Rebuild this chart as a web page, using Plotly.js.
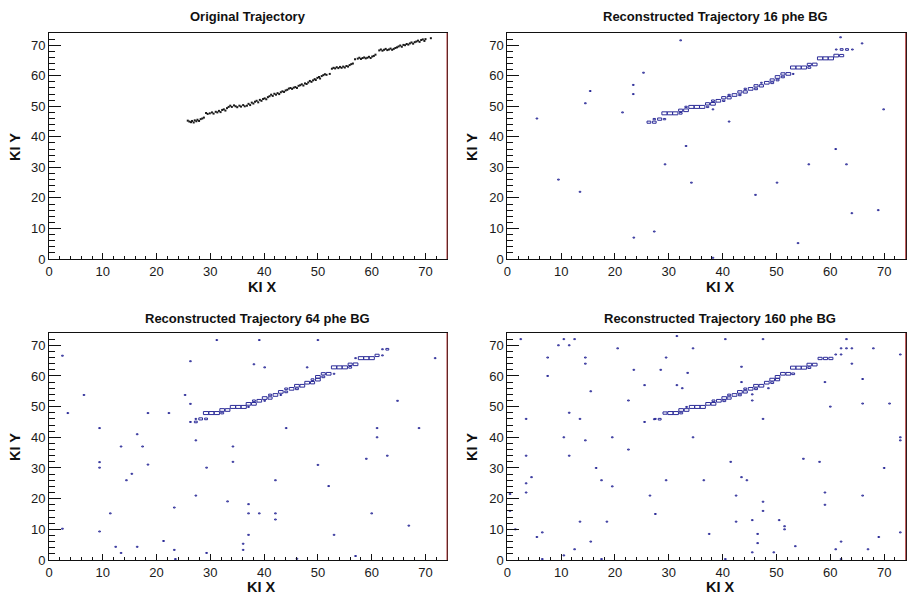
<!DOCTYPE html>
<html>
<head>
<meta charset="utf-8">
<script src="https://cdn.plot.ly/plotly-3.0.1.min.js"></script>
<style>html,body{margin:0;padding:0;background:#fff;}#chart{width:907px;height:597px;}</style>
</head>
<body>
<div id="chart"></div>
<script>
// ---------------- DATA ----------------
const panelTitles = ["Original Trajectory", "Reconstructed Trajectory 16 phe BG",
                     "Reconstructed Trajectory 64 phe BG", "Reconstructed Trajectory 160 phe BG"];
const xTitle = "KI X";
const yTitle = "KI Y";
const tickVals = [0, 10, 20, 30, 40, 50, 60, 70];

// Panel 1: original trajectory points
const origX = [25.8,26.1,26.4,26.6,26.9,27.1,27.4,27.6,27.9,28.2,28.5,28.8,
  29.2,29.5,29.9,30.3,30.6,31.0,31.3,31.6,31.9,32.2,
  32.5,32.8,33.1,33.4,
  33.7,34.0,34.4,34.7,35.0,35.4,35.7,36.1,36.4,36.8,
  37.1,37.4,37.7,38.0,38.3,38.6,38.9,39.2,39.5,39.8,
  40.1,40.4,40.7,41.0,41.3,41.6,41.9,42.2,42.5,42.8,43.1,43.4,43.7,44.0,
  44.3,44.6,44.9,45.2,45.5,45.8,46.1,46.4,46.7,47.0,47.3,47.6,47.9,
  48.2,48.5,48.8,49.1,49.4,49.6,49.9,50.2,50.4,50.7,51.0,51.3,51.6,
  52.2,
  52.6,52.9,53.2,53.5,53.8,54.1,54.4,54.7,55.0,55.3,55.6,55.9,56.2,56.5,
  56.9,
  57.4,57.7,58.0,58.3,58.6,58.9,59.2,59.5,59.8,60.1,60.4,60.7,
  61.4,61.7,62.0,62.3,62.6,62.9,63.2,63.5,63.8,64.1,64.4,64.7,
  65.0,65.3,65.6,65.9,66.2,66.5,66.8,67.1,67.4,67.7,68.0,68.3,68.6,68.9,69.2,69.5,69.8,70.0,
  71.0];
const origY = [45.3,45.0,44.8,45.2,44.7,45.4,45.1,45.6,45.2,45.8,46.0,46.3,
  47.8,47.5,47.7,48.0,47.6,48.2,48.0,48.5,48.1,48.8,
  49.0,48.6,49.4,49.8,
  50.2,49.8,50.3,50.0,49.7,50.2,49.9,50.4,50.0,50.2,
  50.8,50.4,51.2,50.9,51.5,51.8,51.3,52.1,51.8,52.4,
  52.6,52.3,53.0,53.3,53.8,53.4,54.1,53.8,54.3,54.0,54.6,54.9,54.7,55.2,
  55.4,55.8,56.0,55.7,56.1,56.3,56.0,56.7,56.9,57.2,56.8,57.5,57.3,
  57.8,58.3,58.0,58.5,58.9,58.6,59.3,59.6,59.1,59.9,60.2,60.5,60.3,
  60.6,
  62.3,62.6,62.4,62.8,62.5,62.9,62.6,63.0,62.7,63.2,63.0,63.5,63.8,64.0,
  65.4,
  65.6,65.9,65.5,65.8,66.0,65.7,65.9,66.2,65.8,66.3,66.5,66.9,
  68.3,68.6,68.2,68.5,68.8,68.4,68.6,68.9,68.5,68.8,69.1,69.3,
  69.6,69.9,69.5,70.1,70.0,70.4,70.2,70.6,70.9,70.5,71.0,71.2,71.5,71.1,71.7,71.9,71.4,72.0,
  72.3];

// Panel 2: 16 phe BG  (trajectory bins + background bins with 1 entry)
const bg16X = [5.5,9.5,13.5,14.5,15.4,21.4,23.4,23.4,23.5,25.3,27.3,29.3,32.2,33.2,34.2,38.2,38.2,41.2,46.1,50.1,54.0,56.0,61.0,63.0,64.0,61.9,65.9,68.9,69.9];
const bg16Y = [46,26,22,51,55,48,57,54,7,61,9,31,71.6,37,25,49,0.4,45,21,25,5.2,31,36,31,15,72.6,70.6,16,49];
const tr16X = [26.3,27.3, 27.3,28.3,29.2, 29.2,30.2,31.2,32.2, 32.2,33.2, 33.2,34.2,35.2,36.2,37.2, 37.2,38.2, 38.2,39.2,40.2, 40.2,41.2, 41.2,42.2,43.2, 43.2,44.2, 44.2,45.2,46.2, 46.2,47.2, 47.2,48.2,49.2, 49.2,50.2, 50.2,51.2, 51.2,52.2,53.1, 53.1,54.1,55.1,56.1, 56.1,57.1, 58.1,59.1,60.1, 61.1,62.1, 61.1,62.1,63.1,64.1];
const tr16Y = [44.8,44.8, 45.8,45.8,45.8, 47.7,47.7,47.7,47.7, 48.7,48.7, 49.8,49.8,49.8,49.8,49.8, 50.8,50.8, 51.8,51.8,51.8, 52.8,52.8, 53.7,53.7,53.7, 54.7,54.7, 55.7,55.7,55.7, 56.7,56.7, 57.7,57.7,57.7, 58.6,58.6, 59.6,59.6, 60.6,60.6,60.6, 62.7,62.7,62.7,62.7, 63.7,63.7, 65.7,65.7,65.7, 66.6,66.6, 68.6,68.6,68.6,68.6];
const tr16N = [5,5, 2,6,2, 10,10,10,3, 6,8, 2,10,10,10,2, 6,8, 3,8,2, 6,6, 2,8,2, 6,6, 2,8,3, 6,6, 1,8,3, 6,3, 8,3, 6,8,1, 10,10,10,3, 6,8, 10,10,10, 8,6, 1,3,3,1];

// Panel 3: 64 phe BG
const bg64X = [2.5,3.5,2.5,6.5,9.4,9.4,9.4,9.4,11.4,12.4,13.4,13.4,14.4,15.4,16.4,16.4,17.4,18.4,18.4,21.3,22.3,23.3,23.3,23.5,25.3,26.3,26.3,27.3,27.3,29.3,29.3,31.2,33.2,34.2,34.2,37.1,37.1,37.1,36.1,36.1,38.1,39.1,39.1,40.1,42.1,42.1,42.1,44.1,46.1,48.0,50.0,50.0,52.0,53.0,57.0,59.0,60.0,61.0,61.0,62.9,64.8,66.9,68.8,71.8];
const bg64Y = [66.6,47.9,10.2,53.8,43.0,31.9,30.1,9.3,15.2,4.3,37.0,2.3,26.0,28.1,41.0,4.3,37.0,47.9,31.1,6.2,47.9,17.1,3.3,0.3,53.8,64.8,50.9,39.0,21.0,30.1,2.3,71.7,19.1,37.0,32.0,18.2,15.2,8.2,5.3,3.3,63.8,71.7,15.2,62.8,26.0,15.2,13.2,43.0,0.4,62.8,71.7,31.0,24.1,8.2,1.3,33.0,15.2,43.0,40.0,34.0,51.9,11.2,43.0,65.8];
const tr64X = [26.3,27.3, 27.3,28.2,29.2, 29.2,30.2,31.2,32.2, 32.2,33.2, 34.2,35.2,36.2,37.1, 37.1,38.1, 38.1,39.1,40.1, 40.1,41.1, 41.1,42.1,43.1, 43.1,44.1, 44.1,45.1,46.1, 46.1,47.1, 48.0,49.0, 49.0,50.0, 50.0,51.0, 51.0,52.0,53.0, 53.0,54.0,55.0,56.0, 56.0,57.0, 57.0,58.0,59.0,60.0, 61.0,62.0, 62.0,62.9];
const tr64Y = [45,45, 46,46,46, 47.9,47.9,47.9,47.9, 48.9,48.9, 49.9,49.9,49.9,49.9, 50.9,50.9, 51.9,51.9,51.9, 52.8,52.8, 53.8,53.8,53.8, 54.8,54.8, 55.8,55.8,55.8, 56.8,56.8, 57.8,57.8, 58.8,58.8, 59.7,59.7, 60.7,60.7,60.7, 62.8,62.8,62.8,62.8, 63.8,63.8, 65.8,65.8,65.8,65.8, 66.7,66.7, 68.7,68.7];
const tr64N = [1,3, 1,5,3, 10,10,10,3, 8,8, 10,10,10,1, 8,8, 3,8,1, 8,6, 3,8,1, 8,3, 3,8,3, 8,8, 8,6, 3,8, 8,3, 6,8,1, 10,10,10,3, 6,8, 1,10,10,10, 6,1, 1,3];

// Panel 4: 160 phe BG
const bg160X = [0.5,0.5,1.5,2.5,3.5,3.5,3.5,3.5,4.5,5.5,6.5,6.5,7.5,7.5,9.5,10.5,10.5,10.5,11.5,11.5,11.5,12.5,12.5,13.5,13.5,14.5,14.5,14.5,15.5,15.5,16.5,17.5,17.5,18.5,19.5,19.5,20.5,22.5,22.5,23.5,25.5,25.5,26.5,27.5,27.5,28.5,29.5,29.5,31.5,31.5,32.5,33.5,34.5,34.5,36.5,37.5,40.5,40.5,41.5,42.5,42.5,43.5,43.5,43.5,44.5,45.5,45.5,45.5,45.5,46.5,46.5,47.5,47.5,47.5,47.5,48.5,49.5,50.5,51.5,51.5,53.5,55,58,59,59,59,60,61,61,62,62,62,62,63,63,64,64,66,66,66,67,68,69,70,71,73,73,73,73];
const bg160Y = [21.5,16,10,72,46,34,25,22,27,7.5,9,0.3,66,60,70,72,40,1.5,70,48,34,72,3.5,46,12.5,66,64,39,55,6,30,26,0.3,12.5,40,24,69,52,36,62,57,45,21,46,15,62,66,26,73,57,56,61,69,40,26,8.5,72,0.3,32,21,12.5,63,58,27,26,54,52,13,2.5,8.5,5.5,72,46,19,16,56,2.5,13,11,10,4.5,33,32,58,22,18,50,67,3.5,69,67,6,0.3,72,69,69,64,59,51,21,3.5,69,7.5,30,51,67,40,39,9];
const tr160X = [27.3,28.3, 29.3,30.3,31.3,32.3, 32.3,33.3, 33.3,34.3,35.3,36.3, 37.3,38.3, 38.3,39.3,40.3, 40.3,41.2, 41.2,42.2,43.2, 43.2,44.2, 44.2,45.2,46.2, 46.2,47.2, 48.2,49.2, 49.2,50.2, 50.2, 51.2,52.2,53.1, 53.1,54.1,55.1,56.1, 56.1,57.1, 58.1,59.1,60.1];
const tr160Y = [45.9,45.9, 47.9,47.9,47.9,47.9, 48.9,48.9, 49.9,49.9,49.9,49.9, 50.9,50.9, 51.9,51.9,51.9, 52.8,52.8, 53.8,53.8,53.8, 54.8,54.8, 55.8,55.8,55.8, 56.8,56.8, 57.8,57.8, 58.8,58.8, 59.7, 60.7,60.7,60.7, 62.7,62.7,62.7,62.7, 63.7,63.7, 65.7,65.7,65.7];
const tr160N = [1,3, 6,10,10,3, 8,8, 1,10,10,10, 8,8, 3,8,3, 8,6, 3,8,3, 8,6, 3,8,3, 8,8, 8,3, 8,6, 8, 8,8,3, 10,10,10,3, 8,8, 6,6,6];

// ---------------- DRAWING ----------------
const FONT = "Liberation Sans, Arial, Helvetica, sans-serif";
const BOXCOL = "#2c2c98";
const NMAX = 10;

// ROOT "BOX" style: box area proportional to bin content, drawn in bin cell of 1x1
function boxTrace(xs, ys, ns, xa, ya) {
  const px = [], py = [];
  for (let i = 0; i < xs.length; i++) {
    const f = Math.sqrt(ns[i] / NMAX) * 0.98;
    const hw = 0.5 * f, hh = 0.5 * f;
    const x = xs[i], y = ys[i];
    px.push(x - hw, x + hw, x + hw, x - hw, x - hw, null);
    py.push(y - hh, y - hh, y + hh, y + hh, y - hh, null);
  }
  return {type: "scatter", mode: "lines", x: px, y: py, xaxis: xa, yaxis: ya,
          line: {color: BOXCOL, width: 1}, hoverinfo: "skip", showlegend: false, connectgaps: false};
}
function ones(n) { return new Array(n).fill(1); }

const traces = [
  {type: "scatter", mode: "markers", x: origX, y: origY, xaxis: "x", yaxis: "y",
   marker: {color: "#1a1a1a", size: 2, symbol: "square"}, hoverinfo: "skip", showlegend: false},
  boxTrace(tr16X, tr16Y, tr16N, "x2", "y2"),
  boxTrace(bg16X, bg16Y, ones(bg16X.length), "x2", "y2"),
  boxTrace(tr64X, tr64Y, tr64N, "x3", "y3"),
  boxTrace(bg64X, bg64Y, ones(bg64X.length), "x3", "y3"),
  boxTrace(tr160X, tr160Y, tr160N, "x4", "y4"),
  boxTrace(bg160X, bg160Y, ones(bg160X.length), "x4", "y4")
];

const W = 907, H = 597;
const colDom = [[49 / W, 447 / W], [507.3 / W, 905.7 / W]];
const rowDom = [[1 - 259 / H, 1 - 33 / H], [1 - 560 / H, 1 - 333 / H]];

function xAxis(dom, anchor) {
  return {domain: dom, anchor: anchor, range: [0, 74], tickvals: tickVals,
    ticks: "inside", ticklen: 6, tickwidth: 1, tickcolor: "#111",
    minor: {dtick: 2, tick0: 0, ticks: "inside", ticklen: 3, tickcolor: "#111", showgrid: false},
    showline: true, linecolor: "#111", linewidth: 1, mirror: true,
    showgrid: false, zeroline: false, fixedrange: true,
    tickfont: {family: FONT, size: 13, color: "#1a1a1a"}};
}
function yAxis(dom, anchor) {
  return {domain: dom, anchor: anchor, range: [0, 74], tickvals: tickVals,
    ticks: "inside", ticklen: 12, tickwidth: 1, tickcolor: "#111",
    minor: {dtick: 2, tick0: 0, ticks: "inside", ticklen: 6, tickcolor: "#111", showgrid: false},
    showline: true, linecolor: "#111", linewidth: 1, mirror: true,
    showgrid: false, zeroline: false, fixedrange: true,
    tickfont: {family: FONT, size: 13, color: "#1a1a1a"}};
}

const layout = {
  width: W, height: H, margin: {l: 0, r: 0, t: 0, b: 0},
  paper_bgcolor: "#fff", plot_bgcolor: "#fff", showlegend: false,
  xaxis: xAxis(colDom[0], "y"), yaxis: yAxis(rowDom[0], "x"),
  xaxis2: xAxis(colDom[1], "y2"), yaxis2: yAxis(rowDom[0], "x2"),
  xaxis3: xAxis(colDom[0], "y3"), yaxis3: yAxis(rowDom[1], "x3"),
  xaxis4: xAxis(colDom[1], "y4"), yaxis4: yAxis(rowDom[1], "x4"),
  annotations: [],
  shapes: []
};

const titlePos = [[248, 17], [715, 17], [257, 318], [720, 318]];
const xtPos = [[262, 287], [720, 287], [261, 587], [720, 587]];
const ytPos = [[15, 147], [472, 147], [15, 447], [472, 447]];
const axIds = ["", "2", "3", "4"];
for (let i = 0; i < 4; i++) {
  layout.annotations.push({text: "<b>" + panelTitles[i] + "</b>", xref: "paper", yref: "paper",
    x: titlePos[i][0] / W, y: 1 - titlePos[i][1] / H, xanchor: "center", yanchor: "middle",
    showarrow: false, font: {family: FONT, size: 13, color: "#111"}});
  layout.annotations.push({text: "<b>" + xTitle + "</b>", xref: "paper", yref: "paper",
    x: xtPos[i][0] / W, y: 1 - xtPos[i][1] / H, xanchor: "center", yanchor: "middle",
    showarrow: false, font: {family: FONT, size: 14.5, color: "#111"}});
  layout.annotations.push({text: "<b>" + yTitle + "</b>", xref: "paper", yref: "paper",
    x: ytPos[i][0] / W, y: 1 - ytPos[i][1] / H, xanchor: "center", yanchor: "middle",
    textangle: -90, showarrow: false, font: {family: FONT, size: 14.5, color: "#111"}});
  // reddish right frame edge
  layout.shapes.push({type: "line", xref: "x" + axIds[i] + " domain", yref: "y" + axIds[i] + " domain",
    x0: 1, x1: 1, y0: 0, y1: 1, line: {color: "#b23a3a", width: 1}});
}

Plotly.newPlot("chart", traces, layout, {staticPlot: true, displayModeBar: false});
</script>
</body>
</html>
